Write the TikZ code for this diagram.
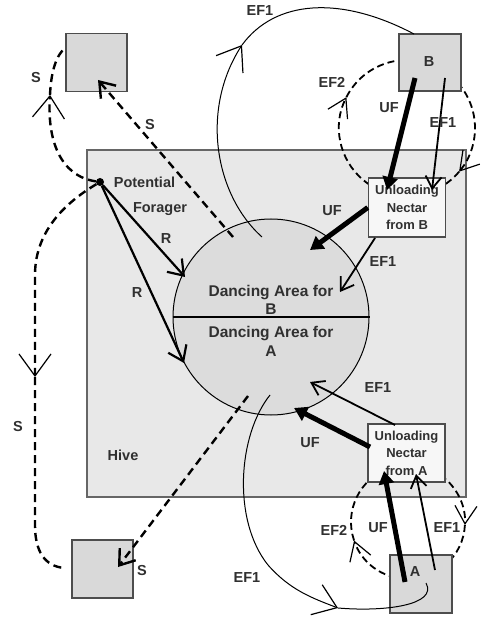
\documentclass[tikz,border=0pt]{standalone}
\usepackage{fontspec}
\setmainfont{Liberation Sans}
\usetikzlibrary{arrows.meta}
\definecolor{hivefill}{HTML}{E8E8E8}
\definecolor{hiveline}{HTML}{666666}
\definecolor{sqfill}{HTML}{D9D9D9}
\definecolor{sqline}{HTML}{4D4D4D}
\definecolor{dancefill}{HTML}{DCDCDC}
\definecolor{boxfill}{HTML}{F7F7F7}
\definecolor{txt}{HTML}{303030}
\begin{document}
\begin{tikzpicture}[x=1pt,y=-1pt,
 lbl/.style={font=\fontsize{14.5}{16}\selectfont\bfseries,text=txt,inner sep=0pt},
 sq/.style={draw=sqline,fill=sqfill,line width=1.5pt,minimum width=61pt,minimum height=58pt,inner sep=0pt},
 ubox/.style={draw=sqline,fill=boxfill,line width=1.5pt,minimum width=77pt,minimum height=59pt,inner sep=0pt,align=center,font=\fontsize{13}{17.5}\selectfont\bfseries,text=txt},
 ufarrow/.style={line width=5pt,-{Triangle[length=13pt,width=15pt]}},
 efarrow/.style={line width=1.8pt,-{Straight Barb[length=12pt,width=16pt]}},
 rarrow/.style={line width=2.2pt,-{Straight Barb[length=14pt,width=20pt]}},
 sdash/.style={line width=2.4pt,dash pattern=on 8pt off 5pt},
 sarrow/.style={sdash,-{Straight Barb[length=14pt,width=20pt]}},
 bigv/.style={-{Straight Barb[length=22pt,width=32pt,line width=1.2pt]}},
 thinline/.style={line width=1pt},
 ef2/.style={line width=1.8pt,dash pattern=on 7pt off 4pt},
 loopv/.style={ef2,-{Straight Barb[length=18pt,width=22pt,line width=1.2pt]}},
]
\useasboundingbox (0,0) rectangle (484,617);

% hive and dancing area
\node[draw=hiveline,fill=hivefill,line width=2pt,minimum width=379pt,minimum height=347pt,inner sep=0pt] (hive) at (276.5,323.5) {};
\node[circle,draw=black,fill=dancefill,line width=1pt,minimum size=196pt,inner sep=0pt] (dance) at (271,317) {};
\draw[line width=1.5pt] (dance.west) -- (dance.east);

% EF2 loops (clockwise on the page)
\coordinate (cB) at (407,128);
\coordinate (cA) at (408,522);
\draw[loopv] (cB) ++(-153:68) arc[start angle=-153,end angle=40,radius=68];
\draw[loopv] (cB) ++(40:68) arc[start angle=40,end angle=207,radius=68];
\draw[loopv] (cA) ++(3:57) arc[start angle=3,end angle=161,radius=57];
\draw[loopv] (cA) ++(161:57) arc[start angle=161,end angle=363,radius=57];

% squares and boxes
\node[sq] (tl) at (96.5,62.5) {};
\node[sq] (bl) at (102.5,569) {};
\node[sq,minimum width=62pt,minimum height=57pt] (sqB) at (430,62.5) {};
\node[sq,minimum width=62pt] (sqA) at (421,584) {};
\node[ubox] (uB) at (407,207.5) {Unloading\\Nectar\\from B};
\node[ubox,minimum height=58pt] (uA) at (406.5,453) {Unloading\\Nectar\\from A};

% potential forager
\node[circle,fill=black,inner sep=0pt,minimum size=8pt] (pf) at (100,182) {};

% coordinates
\coordinate (r1) at (185,277);
\coordinate (r2) at (184,363);
\coordinate (s1a) at (233,237);
\coordinate (s1b) at (98,80);
\coordinate (s2a) at (248,396);
\coordinate (s2b) at (118,567);
\coordinate (vTL) at (50,95);
\coordinate (tlEnd) at (66,47);
\coordinate (vL) at (35,377);
\coordinate (blEnd) at (64,568);
\coordinate (ef1a) at (262,237);
\coordinate (vTop) at (242,45);
\coordinate (ef1b) at (414,34);
\coordinate (ef1c) at (270,395);
\coordinate (vBot) at (338,608);
\coordinate (ef1d) at (426,583);
\coordinate (ufB0) at (415,78);
\coordinate (ufB1) at (387,190);
\coordinate (efB0) at (445,78);
\coordinate (efB1) at (432,190);
\coordinate (ufD1) at (310,250);
\coordinate (efD0) at (375,238);
\coordinate (efD1) at (340,292);
\coordinate (efA0) at (395,425);
\coordinate (efA1) at (310,382);
\coordinate (ufA0) at (370,447);
\coordinate (ufA1) at (294,408);
\coordinate (ufS0) at (405,582);
\coordinate (ufS1) at (384,471);
\coordinate (efS0) at (435,570);
\coordinate (efS1) at (416,474);

% S paths (scouts)
\draw[sdash,bigv] (pf) .. controls (60,176) and (47,140) .. (vTL);
\draw[sdash] (vTL) .. controls (51,72) and (56,55) .. (tlEnd);
\draw[sdash,bigv] (pf) .. controls (70,200) and (35,228) .. (35,275) -- (vL);
\draw[sdash] (vL) -- (35,525) .. controls (35,552) and (45,566) .. (blEnd);
\draw[sarrow] (s1a) -- (s1b);
\draw[sarrow] (s2a) -- (s2b);

% EF1 long trips
\draw[thinline,bigv] (ef1a) .. controls (215,195) and (200,110) .. (vTop);
\draw[thinline] (vTop) .. controls (275,0) and (340,-5) .. (ef1b);
\draw[thinline,bigv] (ef1c) .. controls (238,435) and (232,520) .. (268,565) .. controls (290,590) and (312,598) .. (vBot);
\draw[thinline] (vBot) .. controls (385,612) and (438,605) .. (ef1d);

% recruits
\draw[rarrow] (pf) -- (r1);
\draw[rarrow] (pf) -- (r2);

% unloading flows
\draw[ufarrow] (ufB0) -- (ufB1);
\draw[efarrow] (efB0) -- (efB1);
\draw[ufarrow] (uB.west) -- (ufD1);
\draw[efarrow] (efD0) -- (efD1);
\draw[efarrow] (efA0) -- (efA1);
\draw[ufarrow] (ufA0) -- (ufA1);
\draw[ufarrow] (ufS0) -- (ufS1);
\draw[efarrow] (efS0) -- (efS1);

% texts
\node[lbl,align=center,font=\fontsize{15.5}{18}\selectfont\bfseries] (tB) at (271,300) {Dancing Area for\\B};
\node[lbl,align=center,font=\fontsize{15.5}{19}\selectfont\bfseries] (tA) at (271,341.5) {Dancing Area for\\A};
\node[lbl] (lPot) at (144.5,182) {Potential};
\node[lbl] (lFor) at (160,209) {Forager};
\node[lbl] (lR1) at (166,239) {R};
\node[lbl] (lR2) at (137,293) {R};
\node[lbl] (lS1) at (150,125) {S};
\node[lbl] (lS2) at (36,78) {S};
\node[lbl] (lS3) at (18,427) {S};
\node[lbl] (lS4) at (142,571) {S};
\node[lbl] (lHive) at (123,455) {Hive};
\node[lbl] (lB) at (429,62) {B};
\node[lbl] (lA) at (415,572) {A};
\node[lbl] (lEF1a) at (260,11) {EF1};
\node[lbl] (lEF2a) at (332,82) {EF2};
\node[lbl] (lUFa) at (389,108) {UF};
\node[lbl] (lEF1b) at (443,123) {EF1};
\node[lbl] (lUFb) at (332,211) {UF};
\node[lbl] (lEF1c) at (383,262) {EF1};
\node[lbl] (lEF1d) at (378,388) {EF1};
\node[lbl] (lUFc) at (310,443) {UF};
\node[lbl] (lEF2b) at (334,530) {EF2};
\node[lbl] (lUFd) at (378,528) {UF};
\node[lbl] (lEF1e) at (447,528) {EF1};
\node[lbl] (lEF1f) at (247,578) {EF1};
\end{tikzpicture}
\end{document}
